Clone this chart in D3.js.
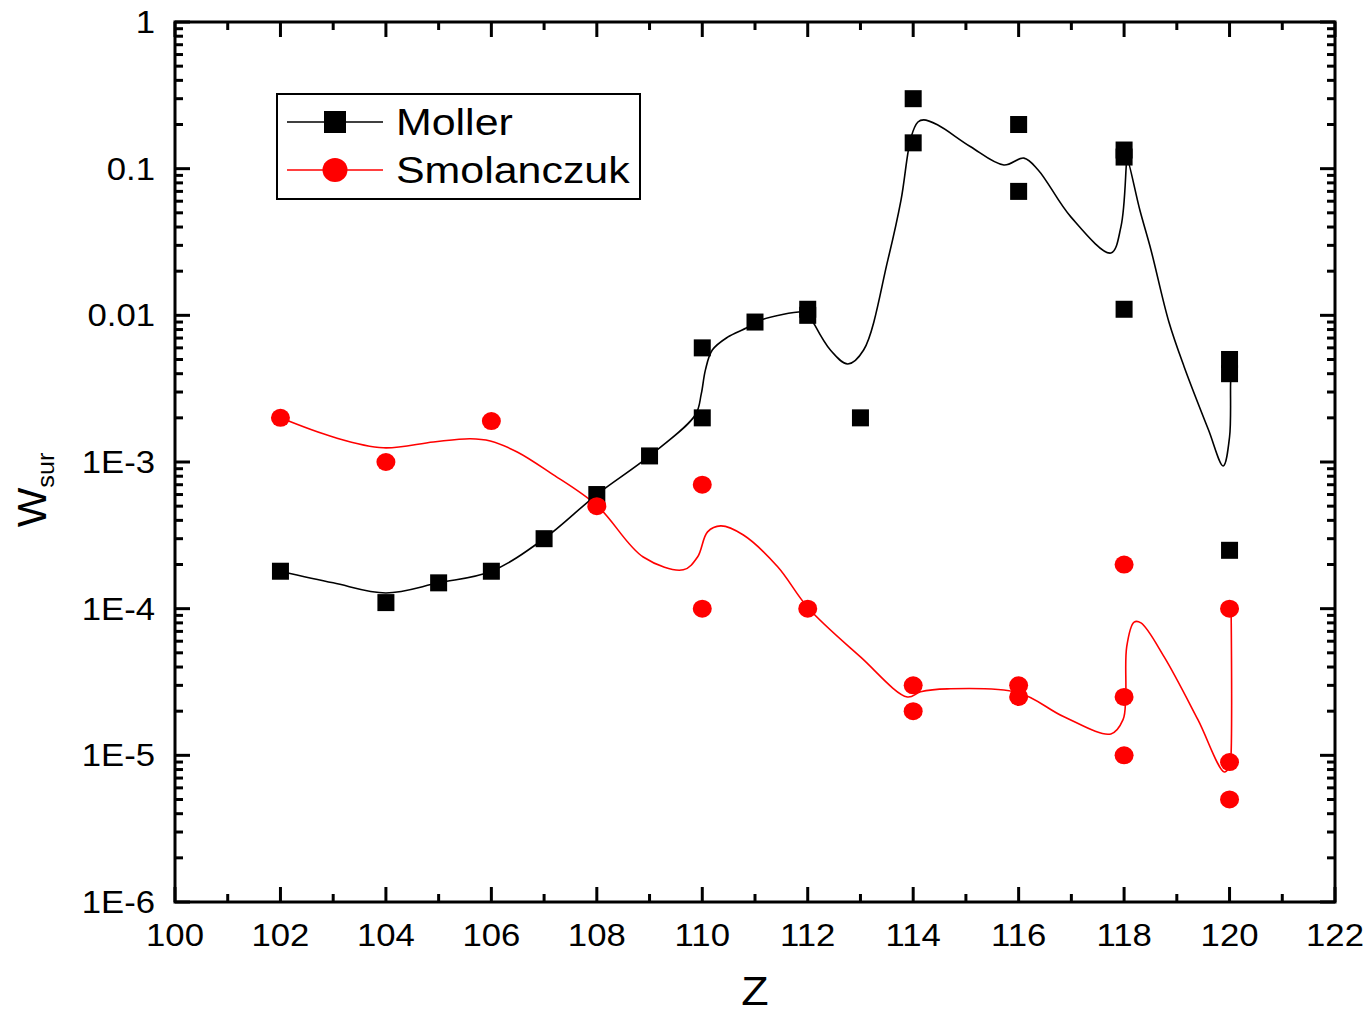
<!DOCTYPE html>
<html>
<head>
<meta charset="utf-8">
<script src="https://cdn.jsdelivr.net/npm/d3@7"></script>
<style>
  html, body { margin: 0; padding: 0; background: #fff; }
  svg { display: block; font-family: "Liberation Sans", Arial, sans-serif; }
</style>
</head>
<body>
<svg id="chart" width="1371" height="1013"></svg>
<script>
// --- data ---
var mollerZ = [102, 104, 105, 106, 107, 108, 109, 110, 110, 111, 112, 112, 113, 114, 114, 116, 116, 118, 118, 118, 120, 120, 120];
var mollerW = [1.8e-4, 1.1e-4, 1.5e-4, 1.8e-4, 3.0e-4, 6.0e-4, 1.1e-3, 2.0e-3, 6.0e-3, 9.0e-3, 0.011, 0.010, 2.0e-3, 0.30, 0.15, 0.20, 0.07, 0.134, 0.12, 0.011, 5.0e-3, 4.0e-3, 2.5e-4];

var smolZ = [102, 104, 106, 108, 110, 110, 112, 114, 114, 116, 116, 118, 118, 118, 120, 120, 120];
var smolW = [2.0e-3, 1.0e-3, 1.9e-3, 5.0e-4, 7.0e-4, 1.0e-4, 1.0e-4, 3.0e-5, 2.0e-5, 3.0e-5, 2.5e-5, 2.0e-4, 2.5e-5, 1.0e-5, 1.0e-4, 9.0e-6, 5.0e-6];

// smoothed connecting lines
var mollerFitZ = [102, 103, 104, 105, 106, 107, 108, 109, 109.87, 109.98, 110.06, 110.19, 110.48, 110.86, 111, 112.02, 112.11, 112.43, 112.76, 113.06, 113.52, 113.77, 113.96, 114.09, 114.2, 114.46, 115.09, 115.72, 116.1, 116.37, 116.99, 117.75, 117.94, 118.04, 118.05, 118.3, 118.51, 118.85, 119.14, 119.6, 119.88, 120.0, 120.02, 120.03];
var mollerFitW = [1.8e-4, 1.5e-4, 1.28e-4, 1.5e-4, 1.8e-4, 3.0e-4, 6.0e-4, 1.1e-3, 2.1e-3, 2.9e-3, 4.25e-3, 5.8e-3, 7.1e-3, 8.3e-3, 9.0e-3, 0.0104, 8.9e-3, 5.8e-3, 4.66e-3, 5.8e-3, 0.0239, 0.0612, 0.164, 0.208, 0.215, 0.199, 0.141, 0.106, 0.118, 0.098, 0.0469, 0.0266, 0.0401, 0.103, 0.12, 0.052, 0.0279, 9.0e-3, 4.45e-3, 1.66e-3, 9.4e-4, 1.48e-3, 3.46e-3, 4.0e-3];

var smolFitZ = [102, 103, 103.95, 104.9, 105.6, 105.98, 106.49, 107.12, 108.01, 108.88, 109.64, 109.91, 110.1, 110.35, 110.78, 111.43, 112.01, 113.0, 113.89, 114.14, 114.65, 116.0, 116.86, 117.75, 117.98, 118.03, 118.05, 118.19, 118.32, 118.76, 119.4, 119.9, 120.0, 120.02, 120.03];
var smolFitW = [2.0e-3, 1.48e-3, 1.25e-3, 1.37e-3, 1.44e-3, 1.39e-3, 1.17e-3, 8.43e-4, 5.02e-4, 2.25e-4, 1.84e-4, 2.25e-4, 3.34e-4, 3.67e-4, 3.18e-4, 1.93e-4, 1.01e-4, 4.69e-5, 2.5e-5, 2.71e-5, 2.84e-5, 2.67e-5, 1.83e-5, 1.4e-5, 1.75e-5, 2.5e-5, 5.5e-5, 8.1e-5, 8.0e-5, 4.69e-5, 1.75e-5, 7.7e-6, 8.4e-6, 9.0e-6, 1.0e-4];

var xTicks = [100, 102, 104, 106, 108, 110, 112, 114, 116, 118, 120, 122];
var yTicks = [1, 0.1, 0.01, 1e-3, 1e-4, 1e-5, 1e-6];
var yTickLabels = ['1', '0.1', '0.01', '1E-3', '1E-4', '1E-5', '1E-6'];

var seriesNames = ['Moller', 'Smolanczuk'];
var seriesColors = ['#000000', '#ff0000'];

// --- layout ---
var L = 175, R = 1335, T = 22, B = 902;
var MAJOR = 15, MINOR = 8;
var STRETCH = 1.12;   // source glyphs are a bit wider than Liberation Sans

var svg = d3.select('#chart');
var x = d3.scaleLinear().domain([100, 122]).range([L, R]);
var y = d3.scaleLog().domain([1e-6, 1]).range([B, T]);

function zip(a, b) { return a.map(function (v, i) { return [v, b[i]]; }); }
function place(px, py, sx) { return 'translate(' + px + ',' + py + ') scale(' + (sx || STRETCH) + ',1)'; }

// minor ticks
var xMinor = d3.range(101, 122, 2);
var yMinor = [];
for (var e = -6; e < 0; e++) {
	for (var m = 2; m <= 9; m++) yMinor.push(m * Math.pow(10, e));
}

var axes = svg.append('g').attr('stroke', '#000').attr('stroke-width', 3).attr('fill', 'none');

// ticks (inward, on all four sides)
xTicks.forEach(function (t) {
	axes.append('line').attr('x1', x(t)).attr('x2', x(t)).attr('y1', B).attr('y2', B - MAJOR);
	axes.append('line').attr('x1', x(t)).attr('x2', x(t)).attr('y1', T).attr('y2', T + MAJOR);
});
xMinor.forEach(function (t) {
	axes.append('line').attr('x1', x(t)).attr('x2', x(t)).attr('y1', B).attr('y2', B - MINOR);
	axes.append('line').attr('x1', x(t)).attr('x2', x(t)).attr('y1', T).attr('y2', T + MINOR);
});
yTicks.forEach(function (t) {
	axes.append('line').attr('x1', L).attr('x2', L + MAJOR).attr('y1', y(t)).attr('y2', y(t));
	axes.append('line').attr('x1', R).attr('x2', R - MAJOR).attr('y1', y(t)).attr('y2', y(t));
});
yMinor.forEach(function (t) {
	axes.append('line').attr('x1', L).attr('x2', L + MINOR).attr('y1', y(t)).attr('y2', y(t));
	axes.append('line').attr('x1', R).attr('x2', R - MINOR).attr('y1', y(t)).attr('y2', y(t));
});

// frame
axes.append('rect').attr('x', L).attr('y', T).attr('width', R - L).attr('height', B - T);

// tick labels
svg.append('g').selectAll('text').data(xTicks).enter().append('text')
	.attr('transform', function (d) { return place(x(d), 946); })
	.attr('text-anchor', 'middle')
	.attr('font-size', 31)
	.text(function (d) { return d; });

svg.append('g').selectAll('text').data(yTicks).enter().append('text')
	.attr('transform', function (d) { return place(155, y(d) + 11); })
	.attr('text-anchor', 'end')
	.attr('font-size', 31)
	.text(function (d, i) { return yTickLabels[i]; });

// axis titles
svg.append('text').attr('transform', place(755, 1005)).attr('text-anchor', 'middle')
	.attr('font-size', 40).text('Z');

var yt = svg.append('text').attr('transform', 'translate(46,490) rotate(-90) scale(1.05,1)')
	.attr('text-anchor', 'middle').attr('font-size', 40);
yt.append('tspan').text('W');
yt.append('tspan').attr('font-size', 24).attr('dy', 8).text('sur');

// fitted curves
var line = d3.line()
	.x(function (d) { return x(d[0]); })
	.y(function (d) { return y(d[1]); })
	.curve(d3.curveCatmullRom.alpha(0.5));

svg.append('path').datum(zip(mollerFitZ, mollerFitW)).attr('d', line)
	.attr('fill', 'none').attr('stroke', seriesColors[0]).attr('stroke-width', 1.6);
svg.append('path').datum(zip(smolFitZ, smolFitW)).attr('d', line)
	.attr('fill', 'none').attr('stroke', seriesColors[1]).attr('stroke-width', 1.6);

// markers
var SQ = 17;
svg.append('g').selectAll('rect').data(zip(mollerZ, mollerW)).enter().append('rect')
	.attr('x', function (d) { return x(d[0]) - SQ / 2; })
	.attr('y', function (d) { return y(d[1]) - SQ / 2; })
	.attr('width', SQ).attr('height', SQ)
	.attr('fill', seriesColors[0]);

svg.append('g').selectAll('ellipse').data(zip(smolZ, smolW)).enter().append('ellipse')
	.attr('cx', function (d) { return x(d[0]); })
	.attr('cy', function (d) { return y(d[1]); })
	.attr('rx', 9.5).attr('ry', 9)
	.attr('fill', seriesColors[1]);

// legend
var lg = svg.append('g');
lg.append('rect').attr('x', 277).attr('y', 94).attr('width', 363).attr('height', 105)
	.attr('fill', '#fff').attr('stroke', '#000').attr('stroke-width', 2);
var rowsY = [122, 170];
seriesNames.forEach(function (name, i) {
	var cy = rowsY[i];
	lg.append('line').attr('x1', 287).attr('x2', 383).attr('y1', cy).attr('y2', cy)
		.attr('stroke', seriesColors[i]).attr('stroke-width', 1.6);
	if (i === 0) {
		lg.append('rect').attr('x', 335 - 11).attr('y', cy - 11).attr('width', 22).attr('height', 22)
			.attr('fill', seriesColors[i]);
	} else {
		lg.append('ellipse').attr('cx', 335).attr('cy', cy).attr('rx', 12.5).attr('ry', 12)
			.attr('fill', seriesColors[i]);
	}
	lg.append('text').attr('transform', place(396, cy + 13, 1.16)).attr('font-size', 37).text(name);
});
</script>
</body>
</html>
